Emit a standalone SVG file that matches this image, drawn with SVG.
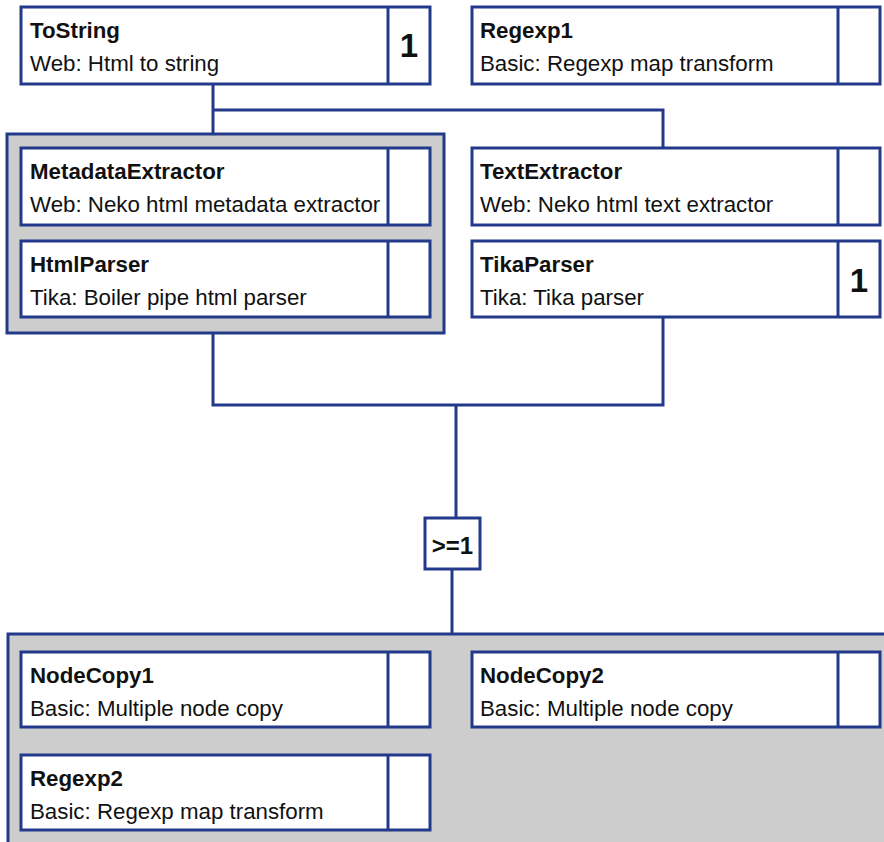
<svg xmlns="http://www.w3.org/2000/svg" width="884" height="842" viewBox="0 0 884 842">
<style>
.grp{fill:#cdcdcd;stroke:#233a8b;stroke-width:3}
.box{fill:#ffffff;stroke:#233a8b;stroke-width:3}
.div{stroke:#233a8b;stroke-width:3}
.con{fill:none;stroke:#233a8b;stroke-width:3}
.name{font-family:"Liberation Sans",Arial,sans-serif;font-weight:bold;font-size:22.3px;fill:#111}
.desc{font-family:"Liberation Sans",Arial,sans-serif;font-size:22.3px;fill:#111}
.card{font-family:"Liberation Sans",Arial,sans-serif;font-weight:bold;font-size:33px;fill:#111;text-anchor:middle}
.gate{font-family:"Liberation Sans",Arial,sans-serif;font-weight:bold;font-size:24px;fill:#111;text-anchor:middle}
</style>
<rect width="884" height="842" fill="#ffffff"/>
<g id="group1"><rect class="grp" x="7" y="134" width="437" height="199"/></g>
<g id="group2"><rect class="grp" x="8" y="634" width="900" height="300"/></g>
<g id="connectors">
<path class="con" d="M213 84V134M213 110H663V148"/>
<path class="con" d="M213 333V405H663V317M456 405V518"/>
<path class="con" d="M452 569V634"/>
</g>
<g id="gate"><rect class="box" x="425" y="518" width="55" height="51"/><text class="gate" x="452.5" y="554">&gt;=1</text></g>
<g id="ToString"><rect class="box" x="21" y="7" width="409" height="77"/><line class="div" x1="388" y1="7" x2="388" y2="84"/><text class="name" x="30" y="38">ToString</text><text class="desc" x="30" y="71">Web: Html to string</text><text class="card" x="409" y="57">1</text></g>
<g id="Regexp1"><rect class="box" x="472" y="7" width="408" height="77"/><line class="div" x1="838" y1="7" x2="838" y2="84"/><text class="name" x="480" y="38">Regexp1</text><text class="desc" x="480" y="71">Basic: Regexp map transform</text></g>
<g id="MetadataExtractor"><rect class="box" x="21" y="148" width="409" height="77"/><line class="div" x1="388" y1="148" x2="388" y2="225"/><text class="name" x="30" y="179">MetadataExtractor</text><text class="desc" x="30" y="212">Web: Neko html metadata extractor</text></g>
<g id="HtmlParser"><rect class="box" x="21" y="241" width="409" height="76"/><line class="div" x1="388" y1="241" x2="388" y2="317"/><text class="name" x="30" y="272">HtmlParser</text><text class="desc" x="30" y="305">Tika: Boiler pipe html parser</text></g>
<g id="TextExtractor"><rect class="box" x="472" y="148" width="408" height="77"/><line class="div" x1="838" y1="148" x2="838" y2="225"/><text class="name" x="480" y="179">TextExtractor</text><text class="desc" x="480" y="212">Web: Neko html text extractor</text></g>
<g id="TikaParser"><rect class="box" x="472" y="241" width="408" height="76"/><line class="div" x1="838" y1="241" x2="838" y2="317"/><text class="name" x="480" y="272">TikaParser</text><text class="desc" x="480" y="305">Tika: Tika parser</text><text class="card" x="859" y="292">1</text></g>
<g id="NodeCopy1"><rect class="box" x="21" y="652" width="409" height="75"/><line class="div" x1="388" y1="652" x2="388" y2="727"/><text class="name" x="30" y="683">NodeCopy1</text><text class="desc" x="30" y="716">Basic: Multiple node copy</text></g>
<g id="NodeCopy2"><rect class="box" x="472" y="652" width="408" height="75"/><line class="div" x1="838" y1="652" x2="838" y2="727"/><text class="name" x="480" y="683">NodeCopy2</text><text class="desc" x="480" y="716">Basic: Multiple node copy</text></g>
<g id="Regexp2"><rect class="box" x="21" y="755" width="409" height="75"/><line class="div" x1="388" y1="755" x2="388" y2="830"/><text class="name" x="30" y="786">Regexp2</text><text class="desc" x="30" y="819">Basic: Regexp map transform</text></g>
</svg>
